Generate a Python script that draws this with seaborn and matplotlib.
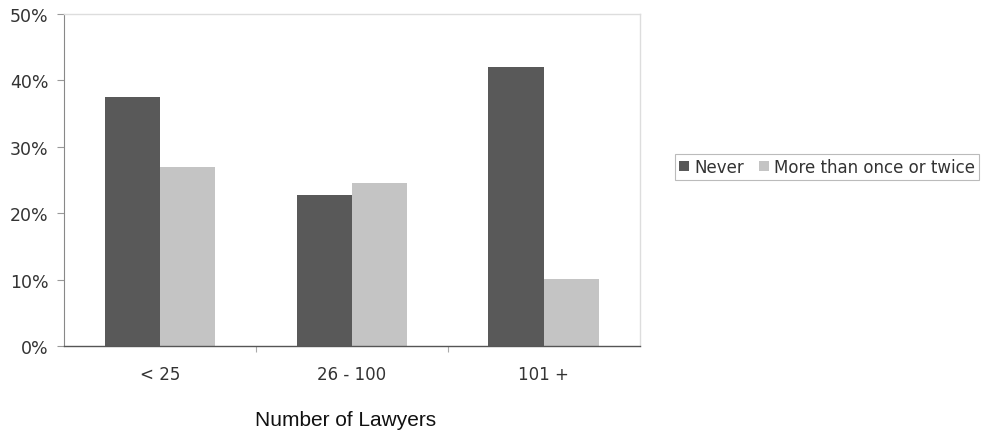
import matplotlib
matplotlib.use("Agg")
import matplotlib.pyplot as plt
from matplotlib.ticker import PercentFormatter, FixedLocator
import seaborn as sns
import pandas as pd

categories = ["< 25", "26 - 100", "101 +"]
series_names = ["Never", "More than once or twice"]
never = [37.5, 22.7, 42.0]
more_than_once = [27.0, 24.5, 10.1]
y_ticks = [0, 10, 20, 30, 40, 50]

df = pd.DataFrame({
    "size": categories * 2,
    "share": never + more_than_once,
    "response": [series_names[0]] * 3 + [series_names[1]] * 3,
})

sns.set_theme(style="white")
plt.rcParams["font.family"] = ["DejaVu Sans"]

fig = plt.figure(figsize=(9.84, 4.35), dpi=100)
ax = fig.add_axes([0.065, 0.2023, 0.585, 0.7632])

sns.barplot(
    data=df, x="size", y="share", hue="response",
    order=categories, hue_order=series_names,
    palette=["#595959", "#c4c4c4"], width=0.575,
    saturation=1, linewidth=0, ax=ax, legend=True,
)

ax.set_ylim(0, 50)
ax.set_xlim(-0.5, 2.5)
ax.yaxis.set_major_locator(FixedLocator(y_ticks))
ax.yaxis.set_major_formatter(PercentFormatter(decimals=0))
ax.tick_params(axis="y", length=5, width=0.8, color="#999999",
               labelsize=12.5, labelcolor="#333333", pad=6, left=True)
ax.tick_params(axis="x", length=0, labelsize=12, labelcolor="#333333", pad=14)
ax.xaxis.set_minor_locator(FixedLocator([0.5, 1.5]))
ax.tick_params(axis="x", which="minor", length=4, width=0.8, color="#aaaaaa", bottom=True)

for side in ["top", "right"]:
    ax.spines[side].set_color("#dddddd")
    ax.spines[side].set_linewidth(1.0)
ax.spines["left"].set_color("#888888")
ax.spines["left"].set_linewidth(0.8)
ax.spines["bottom"].set_color("#555555")
ax.spines["bottom"].set_linewidth(1.0)

ax.set_ylabel("")
ax.set_xlabel("")
fig.text(346 / 984, 1 - 421 / 435, "Number of Lawyers", fontsize=15,
         family="Liberation Sans", color="#111111", ha="center", va="center")

leg = ax.legend(
    loc="center left", bbox_to_anchor=(1.0615, 0.54), ncol=2,
    frameon=True, fancybox=False, fontsize=12, handlelength=0.6,
    handleheight=0.6, handletextpad=0.3, columnspacing=0.9,
    borderpad=0.25, borderaxespad=0,
)
leg.get_frame().set_edgecolor("#aaaaaa")
leg.get_frame().set_linewidth(0.8)
for t in leg.get_texts():
    t.set_color("#333333")

fig.savefig("out.png", dpi=100)
